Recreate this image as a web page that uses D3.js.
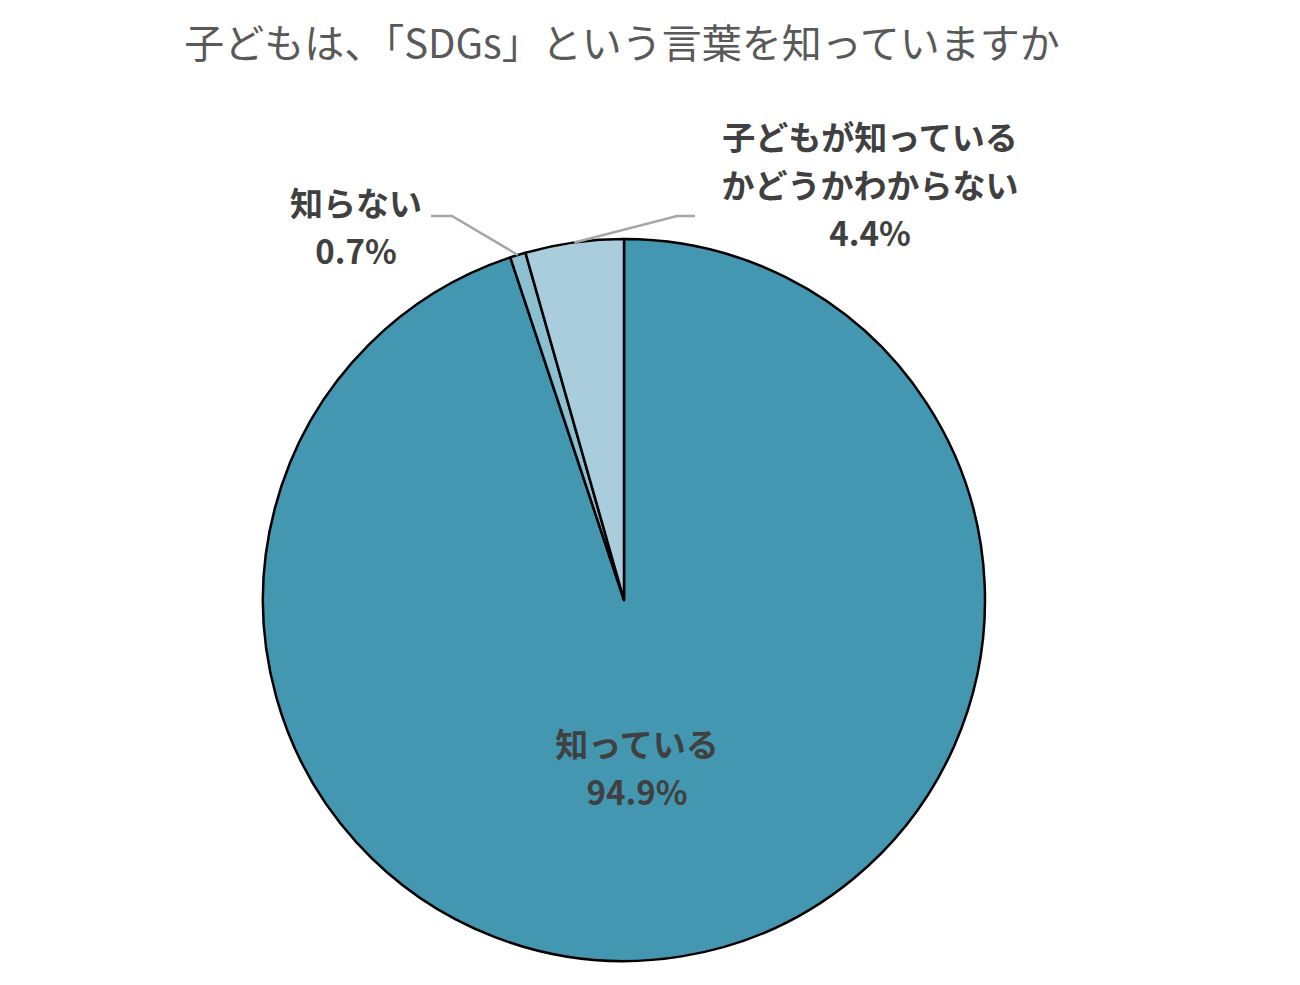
<!DOCTYPE html>
<html>
<head>
<meta charset="utf-8">
<script src="https://cdn.jsdelivr.net/npm/d3@7"></script>
<style>
  body { margin: 0; background: #fff; }
  text { font-family: "Noto Sans CJK JP", "Noto Sans", sans-serif; }
</style>
</head>
<body>
<div id="chart"></div>
<script>
// chart data
var title = "子どもは、「SDGs」という言葉を知っていますか";
var categories = ["知っている", "知らない", "子どもが知っているかどうかわからない"];
var labelLines = [["知っている"], ["知らない"], ["子どもが知っている", "かどうかわからない"]];
var values = [94.9, 0.7, 4.4];
var colors = ["#4397b0", "#8cbfd0", "#a9cddc"];

var svgWidth = 1300;
var svgHeight = 985;
var cx = 624, cy = 600, radius = 361;

var svg = d3.select("#chart")
  .append("svg")
  .attr("width", svgWidth)
  .attr("height", svgHeight);

// title
svg.append("text")
  .attr("x", 622)
  .attr("y", 58)
  .attr("text-anchor", "middle")
  .attr("font-size", "40px")
  .attr("fill", "#595959")
  .text(title);

var pie = d3.pie().sort(null).value(d => d)(values);
var arc = d3.arc().innerRadius(0).outerRadius(radius);

var g = svg.append("g")
  .attr("transform", `translate(${cx}, ${cy})`);

g.selectAll("path.slice")
  .data(pie)
  .enter()
  .append("path")
  .attr("class", "slice")
  .attr("d", arc)
  .attr("fill", (d, i) => colors[i])
  .attr("stroke", "#000")
  .attr("stroke-width", 2.5)
  .attr("stroke-linejoin", "round");

// label settings (position relative to pie center)
var labelPos = [
  { x: 13, y: 157, inside: true },
  { x: -268, y: -384, elbow: [-172, -384], end: [-193, -384] },
  { x: 246, y: -450, elbow: [53, -384], end: [71, -384] }
];

pie.forEach(function(d, i) {
  var p = labelPos[i];
  var lines = labelLines[i].concat([d3.format(".1f")(values[i]) + "%"]);
  var t = g.append("text")
    .attr("text-anchor", "middle")
    .attr("font-size", "33px")
    .attr("font-weight", "bold")
    .attr("fill", "#404040");
  lines.forEach(function(s, j) {
    t.append("tspan")
      .attr("x", p.x)
      .attr("y", p.y + j * 48)
      .text(s);
  });
  if (!p.inside) {
    var mid = (d.startAngle + d.endAngle) / 2;
    var onArc = [radius * Math.sin(mid), -radius * Math.cos(mid)];
    g.append("path")
      .attr("d", d3.line()([p.end, p.elbow, onArc]))
      .attr("fill", "none")
      .attr("stroke", "#a6a6a6")
      .attr("stroke-width", 2.5);
  }
});
</script>
</body>
</html>
